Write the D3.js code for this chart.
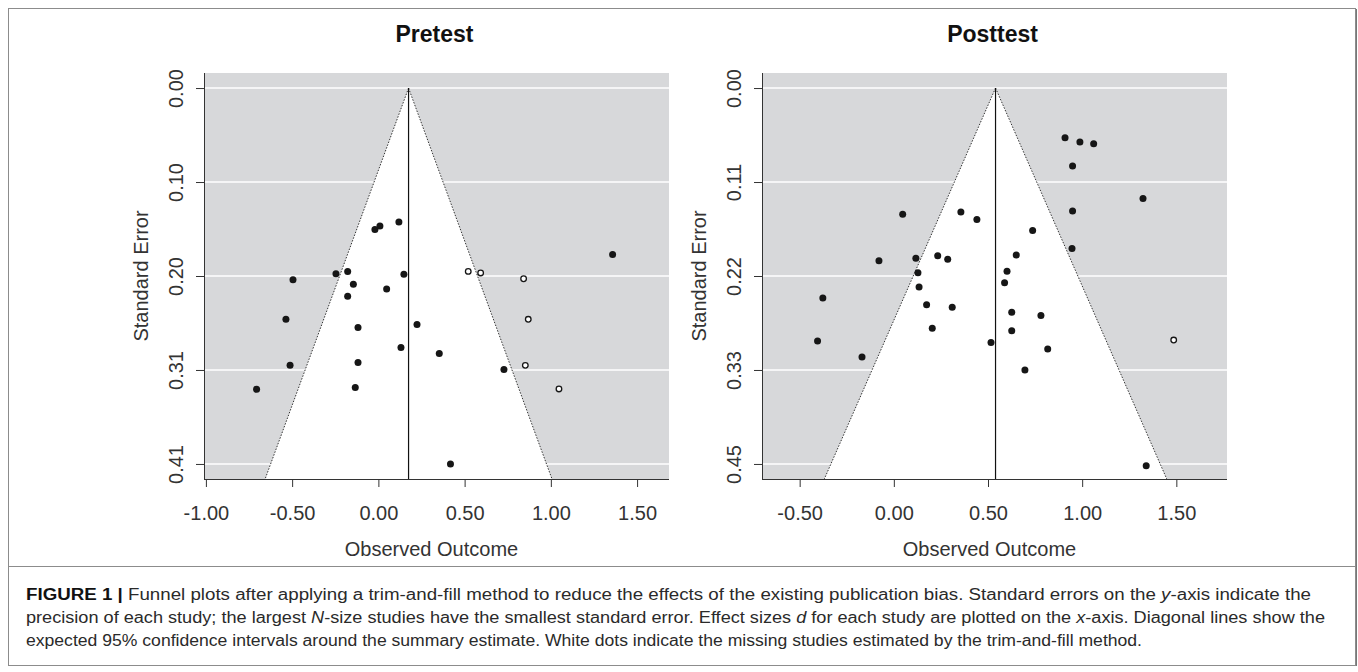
<!DOCTYPE html>
<html lang="en">

<head>
  <meta charset="UTF-8">
  <title>funnel plots</title>
  <script src="https://d3js.org/d3.v7.min.js"></script>
  <style>
    body { margin: 0; background: #fff; }
    text { font-family: "Liberation Sans", Arial, sans-serif; }
  </style>
</head>

<body>
  <svg id="figure" width="1358" height="672"></svg>
  <script>
    // ---- data ----
    // pretest
    const preFilledX = [-0.706, -0.536, -0.512, -0.495, -0.246, -0.178, -0.178, -0.145, -0.134, -0.118, -0.118,
      -0.020, 0.009, 0.048, 0.119, 0.131, 0.148, 0.224, 0.353, 0.418, 0.728, 1.358];
    const preFilledSE = [0.327, 0.251, 0.301, 0.208, 0.2015, 0.199, 0.226, 0.213, 0.325, 0.260, 0.298,
      0.1535, 0.1496, 0.218, 0.1455, 0.2816, 0.202, 0.2566, 0.288, 0.408, 0.3056, 0.1807];
    const preOpenX = [0.521, 0.593, 0.842, 0.869, 0.852, 1.047];
    const preOpenSE = [0.199, 0.2007, 0.207, 0.251, 0.301, 0.3266];
    const preEstimate = 0.175;
    const preMaxSE = 0.408;
    const preYTicks = [0, 0.102, 0.204, 0.306, 0.408];
    const preYLabels = ["0.00", "0.10", "0.20", "0.31", "0.41"];
    const preXTicks = [-1, -0.5, 0, 0.5, 1, 1.5];
    const preXLabels = ["-1.00", "-0.50", "0.00", "0.50", "1.00", "1.50"];
    const preXDomain = [-1.011, 1.685];

    // posttest
    const postFilledX = [0.909, 0.988, 1.061, 0.949, 1.323, 0.949, 0.946, 0.047, 0.356, 0.441, 0.737,
      -0.079, 0.117, 0.233, 0.286, 0.128, 0.650, 0.601, 0.588, 0.134, -0.377, 0.174, 0.310,
      0.626, 0.781, 0.626, 0.204, 0.516, -0.405, 0.817, -0.169, 0.696, 1.340];
    const postFilledSE = [0.059, 0.064, 0.066, 0.0925, 0.131, 0.146, 0.1905, 0.1496, 0.147, 0.156, 0.169,
      0.205, 0.202, 0.199, 0.203, 0.219, 0.198, 0.2175, 0.231, 0.236, 0.249, 0.257, 0.260,
      0.266, 0.270, 0.288, 0.285, 0.302, 0.300, 0.3095, 0.319, 0.3345, 0.448];
    const postOpenX = [1.486];
    const postOpenSE = [0.299];
    const postEstimate = 0.54;
    const postMaxSE = 0.446;
    const postYTicks = [0, 0.1115, 0.223, 0.3345, 0.446];
    const postYLabels = ["0.00", "0.11", "0.22", "0.33", "0.45"];
    const postXTicks = [-0.5, 0, 0.5, 1, 1.5];
    const postXLabels = ["-0.50", "0.00", "0.50", "1.00", "1.50"];
    const postXDomain = [-0.700, 1.769];

    const svg = d3.select('svg#figure');

    // outer frame + caption divider
    svg.append('rect')
      .attr('x', 8.5).attr('y', 8.5)
      .attr('width', 1347).attr('height', 657)
      .attr('fill', 'none').attr('stroke', '#8c8c8c');
    svg.append('line')
      .attr('x1', 1356.5).attr('x2', 1356.5).attr('y1', 9).attr('y2', 666)
      .attr('stroke', '#777');
    svg.append('line')
      .attr('x1', 9).attr('x2', 1356).attr('y1', 566.5).attr('y2', 566.5)
      .attr('stroke', '#8c8c8c');

    function drawFunnel(opts) {
      const plotW = 465, top = 73, bottom = 479;
      const g = svg.append('g').attr('transform', `translate(${opts.left},0)`);

      const x = d3.scaleLinear().domain(opts.xDomain).range([0, plotW]);
      const y = d3.scaleLinear()
        .domain([-0.04 * opts.maxSE, 1.04 * opts.maxSE])
        .range([top, bottom]);
      const seBottom = y.domain()[1];

      // gray background
      g.append('rect')
        .attr('x', 0).attr('y', top)
        .attr('width', plotW).attr('height', bottom - top)
        .attr('fill', '#d7d8da');

      // white grid lines
      opts.yTicks.forEach((t) => {
        g.append('line')
          .attr('x1', 0).attr('x2', plotW)
          .attr('y1', y(t)).attr('y2', y(t))
          .attr('stroke', '#fff')
          .style('stroke-width', '1.5');
      });

      // white funnel region
      const apex = [x(opts.est), y(0)];
      const lb = [x(opts.est - 1.96 * seBottom), y(seBottom)];
      const ub = [x(opts.est + 1.96 * seBottom), y(seBottom)];
      g.append('path')
        .attr('d', d3.line()([apex, lb, ub]) + 'Z')
        .attr('fill', '#fff');

      // dotted funnel edges
      [lb, ub].forEach((p) => {
        g.append('line')
          .attr('x1', apex[0]).attr('y1', apex[1])
          .attr('x2', p[0]).attr('y2', p[1])
          .attr('stroke', '#333')
          .attr('stroke-dasharray', '1.5,1.5')
          .style('stroke-width', '1');
      });

      // vertical line at the estimate
      g.append('line')
        .attr('x1', x(opts.est)).attr('x2', x(opts.est))
        .attr('y1', y(0)).attr('y2', bottom)
        .attr('stroke', '#111')
        .style('stroke-width', '1.2');

      // filled points
      opts.filledX.forEach((d, i) => {
        g.append('circle')
          .attr('cx', x(d))
          .attr('cy', y(opts.filledSE[i]))
          .attr('r', 3.5)
          .style('fill', '#161616');
      });
      // imputed (open) points
      opts.openX.forEach((d, i) => {
        g.append('circle')
          .attr('cx', x(d))
          .attr('cy', y(opts.openSE[i]))
          .attr('r', 2.8)
          .style('fill', '#fff')
          .style('stroke', '#161616')
          .style('stroke-width', '1.3');
      });

      // axes
      const yAxis = g.append('g')
        .call(d3.axisLeft(y).tickValues(opts.yTicks).tickSizeOuter(0).tickSize(8)
          .tickFormat((d, i) => opts.yLabels[i]));
      yAxis.select('.domain').attr('d', `M0.5,${top}V${bottom}`);
      yAxis.selectAll('text')
        .attr('transform', 'rotate(-90)')
        .attr('x', 0).attr('y', -21).attr('dy', 0)
        .attr('text-anchor', 'middle')
        .style('font-size', '20px')
        .attr('fill', '#333');

      const xAxis = g.append('g')
        .attr('transform', `translate(0,${bottom})`)
        .call(d3.axisBottom(x).tickValues(opts.xTicks).tickSizeOuter(0).tickSize(8)
          .tickFormat((d, i) => opts.xLabels[i]));
      xAxis.select('.domain').attr('d', `M0,0.5H${plotW}`);
      xAxis.selectAll('text')
        .attr('y', 41).attr('dy', 0)
        .style('font-size', '20px')
        .attr('fill', '#333');
      g.selectAll('.domain, .tick line').attr('stroke', '#333');

      // titles
      g.append('text')
        .attr('x', plotW / 2 - 2).attr('y', 42)
        .attr('text-anchor', 'middle')
        .style('font-size', '23px').style('font-weight', 'bold')
        .attr('fill', '#111')
        .text(opts.title);
      g.append('text')
        .attr('x', plotW / 2 - 5).attr('y', 556)
        .attr('text-anchor', 'middle')
        .style('font-size', '20px')
        .attr('fill', '#333')
        .text('Observed Outcome');
      g.append('text')
        .attr('transform', `translate(-56,${(top + bottom) / 2}) rotate(-90)`)
        .attr('text-anchor', 'middle')
        .style('font-size', '20px')
        .attr('fill', '#333')
        .text('Standard Error');
    }

    drawFunnel({
      left: 204, title: 'Pretest', est: preEstimate, maxSE: preMaxSE,
      xDomain: preXDomain, xTicks: preXTicks, xLabels: preXLabels,
      yTicks: preYTicks, yLabels: preYLabels,
      filledX: preFilledX, filledSE: preFilledSE, openX: preOpenX, openSE: preOpenSE
    });
    drawFunnel({
      left: 762, title: 'Posttest', est: postEstimate, maxSE: postMaxSE,
      xDomain: postXDomain, xTicks: postXTicks, xLabels: postXLabels,
      yTicks: postYTicks, yLabels: postYLabels,
      filledX: postFilledX, filledSE: postFilledSE, openX: postOpenX, openSE: postOpenSE
    });

    // caption
    const captionLines = [
      [['FIGURE 1 | ', 'b'], ['Funnel plots after applying a trim-and-fill method to reduce the effects of the existing publication bias. Standard errors on the '], ['y', 'i'], ['-axis indicate the']],
      [['precision of each study; the largest '], ['N', 'i'], ['-size studies have the smallest standard error. Effect sizes '], ['d', 'i'], [' for each study are plotted on the '], ['x', 'i'], ['-axis. Diagonal lines show the']],
      [['expected 95% confidence intervals around the summary estimate. White dots indicate the missing studies estimated by the trim-and-fill method.']]
    ];
    const captionWidths = [1285, 1299, 1116];
    captionLines.forEach((parts, li) => {
      const t = svg.append('text')
        .attr('x', 26).attr('y', 600 + li * 23)
        .attr('textLength', captionWidths[li])
        .attr('lengthAdjust', 'spacingAndGlyphs')
        .style('font-size', '16px')
        .attr('fill', '#2a2a2a');
      parts.forEach((p) => {
        const s = t.append('tspan').style('white-space', 'pre').text(p[0]);
        if (p[1] === 'b') s.style('font-weight', 'bold').attr('fill', '#111');
        if (p[1] === 'i') s.style('font-style', 'italic');
      });
    });
  </script>
</body>

</html>
